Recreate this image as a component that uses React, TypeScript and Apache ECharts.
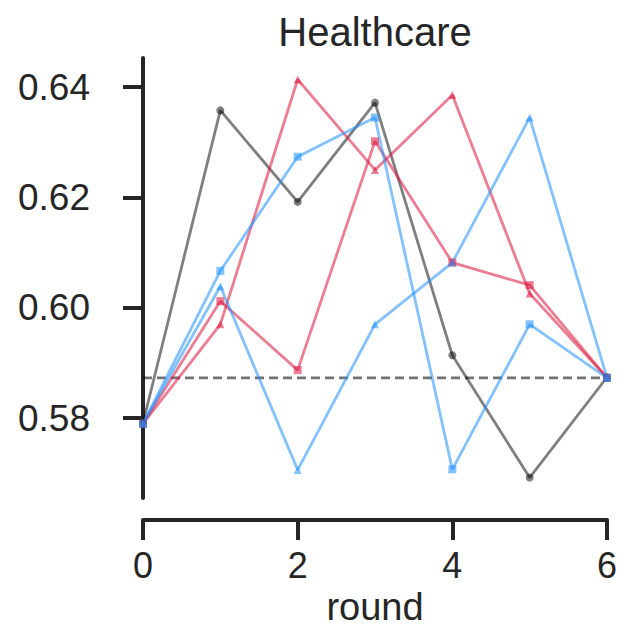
import React, { useEffect, useRef } from "react";
import * as echarts from "echarts";

const rounds = [0, 1, 2, 3, 4, 5, 6];
const grayCircle = [0.5791, 0.6358, 0.6192, 0.6372, 0.5914, 0.5692, 0.5874];
const redSquare = [0.579, 0.6012, 0.5887, 0.6302, 0.6082, 0.6041, 0.5873];
const redTriangle = [0.579, 0.597, 0.6414, 0.625, 0.6386, 0.6026, 0.5873];
const blueSquare = [0.579, 0.6067, 0.6274, 0.6345, 0.5707, 0.597, 0.5873];
const blueTriangle = [0.579, 0.6039, 0.5706, 0.597, 0.6082, 0.6345, 0.5873];
const baselineValue = 0.5873;
const yTicks = [0.58, 0.6, 0.62, 0.64];
const xTicks = [0, 2, 4, 6];

const FONT = "'Liberation Sans', Arial, sans-serif";
const AXIS = "#262626";
const RED = "rgba(220,20,60,0.55)";
const BLUE = "rgba(30,144,255,0.55)";
const GRAY = "rgba(0,0,0,0.5)";

function mk(name: string, vals: number[], color: string, symbol: string) {
  return {
    name,
    type: "line",
    data: rounds.map((r, i) => [r, vals[i]]),
    symbol,
    symbolSize: 8,
    lineStyle: { color, width: 2.8 },
    itemStyle: { color },
    z: 3,
  };
}

export default function App() {
  const ref = useRef<HTMLDivElement>(null);
  useEffect(() => {
    const chart = echarts.init(ref.current!, undefined, { renderer: "svg" });
    chart.setOption({
      animation: false,
      graphic: [
        {
          type: "text",
          x: 375,
          y: 32,
          style: {
            text: "Healthcare",
            font: `40px ${FONT}`,
            fill: AXIS,
            textAlign: "center",
            textVerticalAlign: "middle",
          },
        },
      ],
      grid: { left: 143, right: 15, top: 58, bottom: 129, outerBoundsMode: "none", containLabel: false },
      xAxis: {
        type: "value",
        min: 0,
        max: 6,
        interval: 2,
        offset: 22,
        name: "round",
        nameLocation: "middle",
        nameGap: 70,
        nameTextStyle: { fontSize: 38, lineHeight: 30, color: AXIS, fontFamily: FONT },
        axisLine: { show: true, lineStyle: { color: AXIS, width: 4 } },
        axisTick: { show: true, length: 20, lineStyle: { color: AXIS, width: 4 } },
        axisLabel: { fontSize: 36, color: AXIS, fontFamily: FONT, margin: 27, customValues: xTicks },
        splitLine: { show: false },
      },
      yAxis: {
        type: "value",
        min: 0.5655,
        max: 0.6453,
        offset: 23,
        axisLine: { show: true, lineStyle: { color: AXIS, width: 4 } },
        axisTick: { show: true, length: 20, lineStyle: { color: AXIS, width: 4 }, customValues: yTicks },
        axisLabel: {
          fontSize: 37,
          color: AXIS,
          fontFamily: FONT,
          margin: 30,
          customValues: yTicks,
          formatter: (v: number) => v.toFixed(2),
        },
        splitLine: { show: false },
      },
      series: [
        {
          name: "baseline",
          type: "line",
          data: [
            [rounds[0], baselineValue],
            [rounds[rounds.length - 1], baselineValue],
          ],
          symbol: "none",
          lineStyle: { color: "rgba(0,0,0,0.55)", width: 2.8, type: [9, 5] },
          z: 2,
        },
        mk("grayCircle", grayCircle, GRAY, "circle"),
        mk("redSquare", redSquare, RED, "rect"),
        mk("redTriangle", redTriangle, RED, "triangle"),
        mk("blueSquare", blueSquare, BLUE, "rect"),
        mk("blueTriangle", blueTriangle, BLUE, "triangle"),
      ],
    });
    return () => chart.dispose();
  }, []);
  return (
    <div
      ref={ref}
      style={{ position: "fixed", left: 0, top: 0, width: 622, height: 627, background: "#fff" }}
    />
  );
}
